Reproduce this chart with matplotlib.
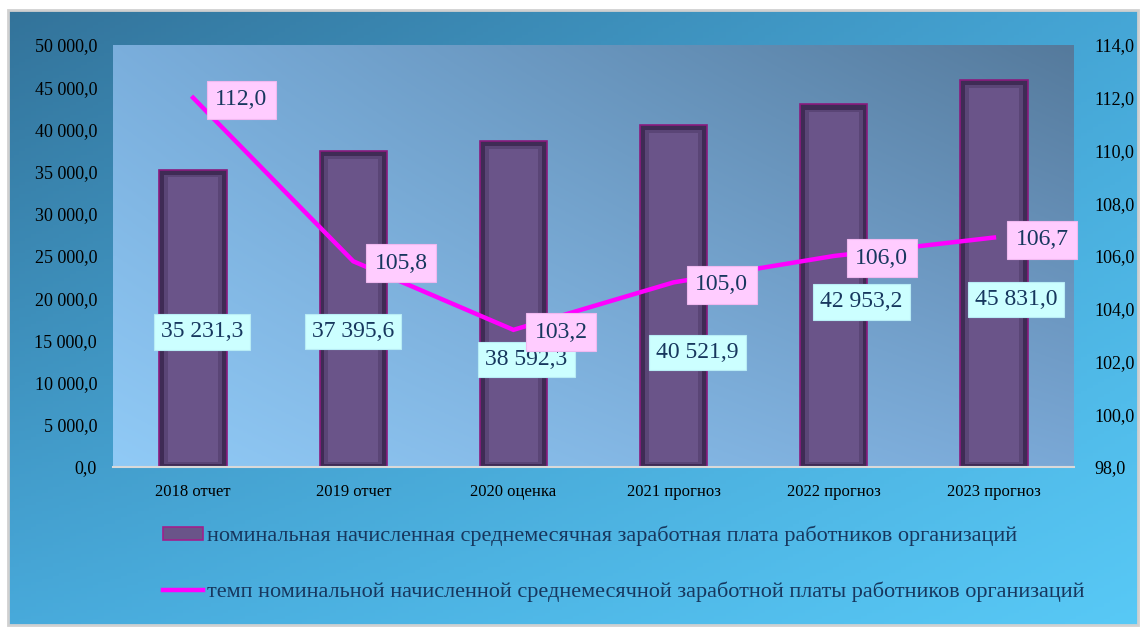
import numpy as np
import matplotlib
matplotlib.use("Agg")
import matplotlib.pyplot as plt
from matplotlib.patches import Patch, Rectangle
from matplotlib.lines import Line2D

categories = ["2018 отчет", "2019 отчет", "2020 оценка", "2021 прогноз", "2022 прогноз", "2023 прогноз"]
wages = [35231.3, 37395.6, 38592.3, 40521.9, 42953.2, 45831.0]
growth = [112.0, 105.8, 103.2, 105.0, 106.0, 106.7]
left_ticks = list(range(0, 50001, 5000))
right_ticks = [98, 100, 102, 104, 106, 108, 110, 112, 114]
legend_labels = ["номинальная начисленная среднемесячная заработная плата работников организаций",
                 "темп номинальной начисленной среднемесячной заработной платы работников организаций"]

# label placement (style)
bar_label_y = [16000, 16100, 12700, 13600, 19550, 19800]
bar_label_dx = [6.5, 0, 9.5, 17, 20, 16]   # points
line_label_dx = 34.6                       # points
line_label_dy = -1.6

def fmt(v, dec=1):
    s = f"{v:,.{dec}f}"
    return s.replace(",", " ").replace(".", ",")

def corner_gradient(c_tl, c_tr, c_bl, c_br, n=200):
    c = [np.array(matplotlib.colors.to_rgb(x)) for x in (c_tl, c_tr, c_bl, c_br)]
    u = np.linspace(0, 1, n)[None, :, None]
    v = np.linspace(0, 1, n)[:, None, None]
    top = c[0] * (1 - u) + c[1] * u
    bot = c[2] * (1 - u) + c[3] * u
    return top * (1 - v) + bot * v

W, H = 1140, 629
fig = plt.figure(figsize=(W / 100, H / 100), dpi=100)
fig.patch.set_facecolor("white")

# background frame
bg = fig.add_axes([8 / W, 1 - 625 / H, 1130 / W, 615 / H])
bg.imshow(corner_gradient("#33739a", "#45a6d6", "#48aadb", "#58c9f6"),
          extent=[0, 1, 0, 1], aspect="auto", transform=bg.transAxes)
bg.set_xlim(0, 1); bg.set_ylim(0, 1)
bg.axis("off")
bg.add_patch(Rectangle((0, 0), 1, 1, transform=bg.transAxes, fill=False,
                       edgecolor="#d0d0d0", linewidth=2, clip_on=False))

ax = fig.add_axes([113 / W, 1 - 467 / H, 961 / W, 422 / H])
ax.imshow(corner_gradient("#7aaedc", "#557a9c", "#90caf6", "#7aa8d6"),
          extent=[0, 1, 0, 1], aspect="auto", transform=ax.transAxes, zorder=0)

x = np.arange(len(categories))
ax.bar(x, wages, width=0.42, color="#3f2b55", edgecolor="#8a1b7e", linewidth=1.2, zorder=2)
ax.bar(x, np.array(wages) - 900, bottom=300, width=0.36, color="#5a4576", linewidth=0, zorder=2.1)
ax.bar(x, np.array(wages) - 1500, bottom=600, width=0.31, color="#6a5489", linewidth=0, zorder=2.2)

ax.set_xlim(-0.5, len(categories) - 0.5)
ax.set_ylim(0, 50000)
ax.set_yticks(left_ticks)
ax.set_yticklabels([fmt(t) for t in left_ticks])
ax.set_xticks(x)
ax.set_xticklabels(categories)
for s in ["top", "left", "right"]:
    ax.spines[s].set_visible(False)
ax.spines["bottom"].set_color("#d9d9d9")
ax.spines["bottom"].set_linewidth(1.5)
ax.tick_params(axis="both", length=0, labelcolor="black")
ax.tick_params(axis="y", labelsize=13, pad=11.5)
ax.tick_params(axis="x", labelsize=12, pad=12)
for lab in ax.get_yticklabels() + ax.get_xticklabels():
    lab.set_fontfamily("Liberation Serif")

for xi, v, ly, dx in zip(x, wages, bar_label_y, bar_label_dx):
    ax.annotate(fmt(v), (xi, ly), xytext=(dx, 0), textcoords="offset points",
                ha="center", va="center", fontsize=17, family="Liberation Serif",
                color="#17375e", zorder=5,
                bbox=dict(boxstyle="square,pad=0.3", facecolor="#ccffff", edgecolor="#b8ecf5", linewidth=0.8))

ax2 = ax.twinx()
ax2.set_ylim(98, 114)
ax2.set_yticks(right_ticks)
ax2.set_yticklabels([fmt(t) for t in right_ticks])
ax2.plot(x, growth, color="#ff00ff", linewidth=3.2, solid_joinstyle="miter", zorder=3)
for s in ax2.spines.values():
    s.set_visible(False)
ax2.tick_params(axis="y", length=0, labelsize=13, pad=14.5, labelcolor="black")
for lab in ax2.get_yticklabels():
    lab.set_fontfamily("Liberation Serif")
for xi, v in zip(x, growth):
    ax2.annotate(fmt(v), (xi, v), xytext=(line_label_dx, line_label_dy), textcoords="offset points",
                 ha="center", va="center", fontsize=17, family="Liberation Serif",
                 color="#17375e", zorder=6,
                 bbox=dict(boxstyle="square,pad=0.36", facecolor="#ffccff", edgecolor="#f0b8f0", linewidth=0.8))

handles = [Patch(facecolor="#6a5489", edgecolor="#a0208c", linewidth=1.2),
           Line2D([0], [0], color="#ff00ff", linewidth=3.2)]
leg = fig.legend(handles, legend_labels, loc="upper left",
                 bbox_to_anchor=(147 / W, 1 - 510 / H), frameon=False, borderpad=0.2,
                 prop={"family": "Liberation Serif", "size": 16},
                 handlelength=1.8, handleheight=0.55, handletextpad=0.18, labelspacing=1.6)
for t in leg.get_texts():
    t.set_color("#17375e")

fig.savefig("out.png", dpi=100, facecolor=fig.get_facecolor())
